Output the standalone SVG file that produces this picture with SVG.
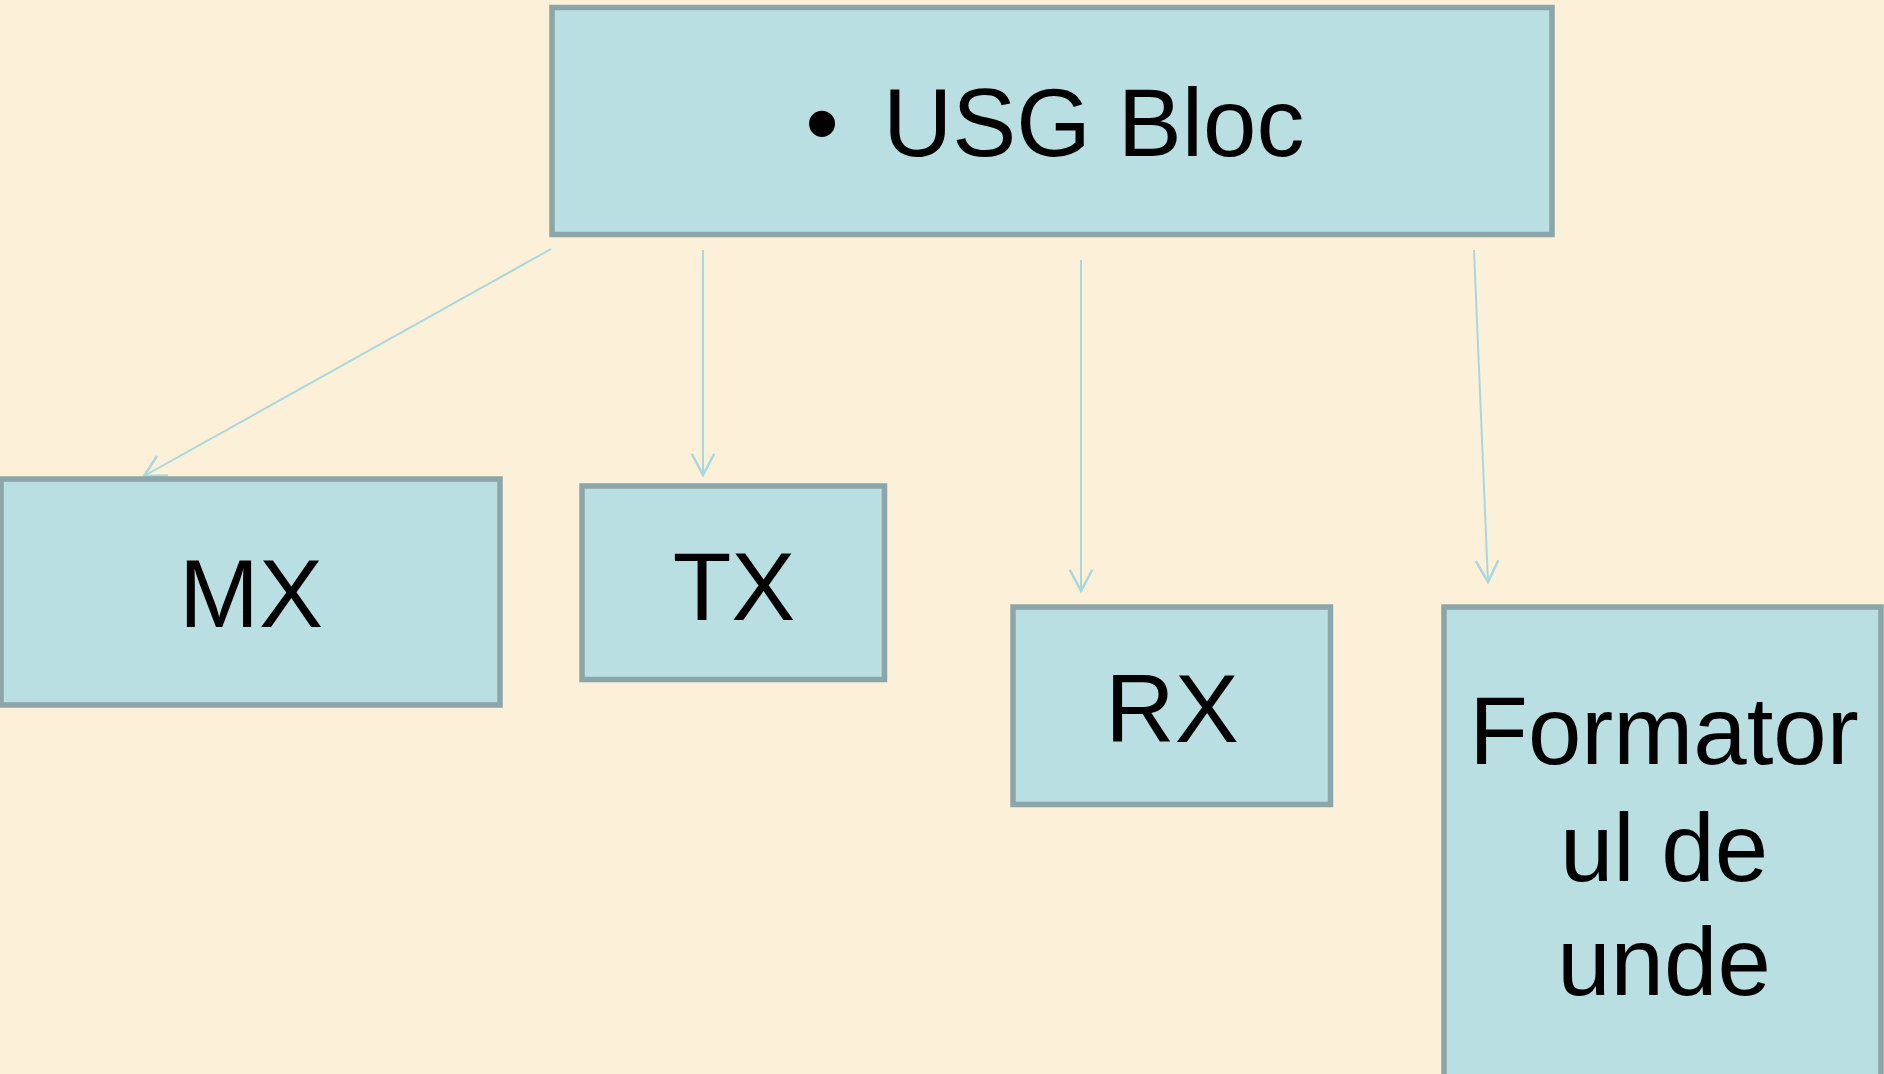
<svg xmlns="http://www.w3.org/2000/svg" width="1884" height="1074" viewBox="0 0 1884 1074">
<style>
.box{fill:#BADFE2;stroke:#8BA5A8;stroke-width:5.5}
.lbl{font-family:"Liberation Sans",Arial,sans-serif;font-size:96px;fill:#000;text-anchor:middle}
.conn{fill:none;stroke:#A8D8DE;stroke-width:2}
</style>
<defs>
<marker id="arr" markerUnits="userSpaceOnUse" markerWidth="30" markerHeight="30" viewBox="-20 -12 24 24" refX="0" refY="0" orient="auto">
<path d="M-17,-9 L0,0 L-17,9" fill="none" stroke="#A8D8DE" stroke-width="2"/>
</marker>
</defs>
<rect x="0" y="0" width="1884" height="1074" fill="#FDF0D8"/>
<g id="connectors">
<path class="conn" d="M551,249 L144,476" marker-end="url(#arr)"/>
<path class="conn" d="M703,250 L703,475" marker-end="url(#arr)"/>
<path class="conn" d="M1081,260 L1081,591" marker-end="url(#arr)"/>
<path class="conn" d="M1474,250 L1488,582" marker-end="url(#arr)"/>
</g>
<g id="usg">
<rect class="box" x="552" y="7.5" width="1000" height="227"/>
<text class="lbl" x="822" y="156" font-size="96" style="text-anchor:middle">•</text>
<text class="lbl" x="883" y="156" style="text-anchor:start">USG Bloc</text>
</g>
<g id="mx">
<rect class="box" x="1" y="479" width="499" height="226"/>
<text class="lbl" x="251" y="627">MX</text>
</g>
<g id="tx">
<rect class="box" x="582" y="486" width="302.5" height="193.5"/>
<text class="lbl" x="734" y="620">TX</text>
</g>
<g id="rx">
<rect class="box" x="1013" y="607" width="317.5" height="197.5"/>
<text class="lbl" x="1172" y="742">RX</text>
</g>
<g id="formator">
<rect class="box" x="1444" y="607" width="437" height="500"/>
<text class="lbl" x="1664" y="764">Formator</text>
<text class="lbl" x="1664" y="881">ul de</text>
<text class="lbl" x="1664" y="995">unde</text>
</g>
</svg>
